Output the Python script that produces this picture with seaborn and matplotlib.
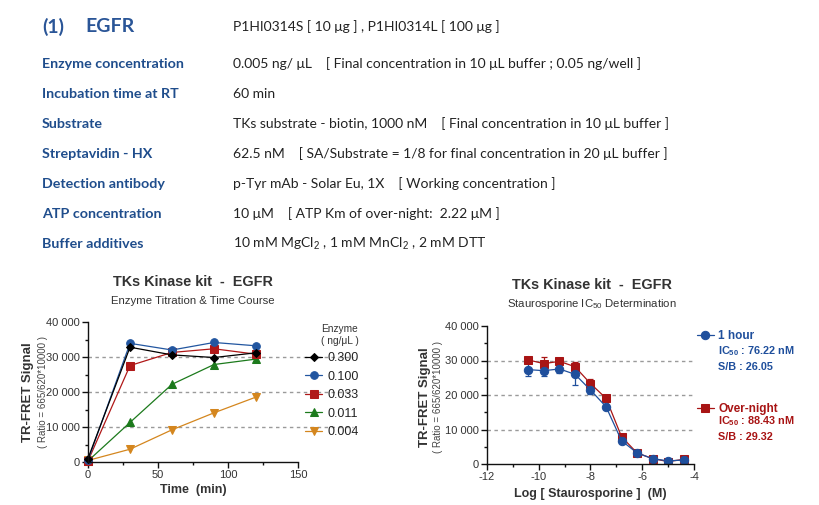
import numpy as np
import pandas as pd
import seaborn as sns
import matplotlib.pyplot as plt
from matplotlib.ticker import FuncFormatter, MultipleLocator, AutoMinorLocator

# --- dati: titolazione enzima / time course ---
tempi = [0, 30, 60, 90, 120]
enzima_labels = ['0.300', '0.100', '0.033', '0.011', '0.004']
segnale_0300 = [1000, 32800, 30600, 29850, 31200]
segnale_0100 = [500, 33900, 32000, 34150, 33200]
segnale_0033 = [300, 27550, 31300, 32350, 30800]
segnale_0011 = [300, 11300, 22200, 27850, 29400]
segnale_0004 = [450, 3650, 9200, 14050, 18550]

# --- dati: staurosporine IC50 ---
log_conc = [-10.4, -9.8, -9.2, -8.6, -8.0, -7.4, -6.8, -6.2, -5.6, -5.0, -4.4]
ora_1 = [27350, 27050, 27550, 26000, 21450, 16600, 6750, 3200, 1550, 900, 1150]
ora_1_sd = [1800, 1500, 1200, 3000, 1200, 800, 400, 400, 300, 200, 200]
notte = [30150, 29100, 29750, 28200, 23300, 19050, 7900, 3200, 1550, 700, 1350]
notte_sd = [600, 1800, 500, 1500, 1300, 500, 500, 300, 200, 200, 200]

# --- testo informativo in alto ---
etichette = ['Enzyme concentration', 'Incubation time at RT', 'Substrate',
             'Streptavidin - HX', 'Detection antibody', 'ATP concentration',
             'Buffer additives']
valori = ['0.005 ng/ μL    [ Final concentration in 10 μL buffer ; 0.05 ng/well ]',
          '60 min',
          'TKs substrate - biotin, 1000 nM    [ Final concentration in 10 μL buffer ]',
          '62.5 nM    [ SA/Substrate = 1/8 for final concentration in 20 μL buffer ]',
          'p-Tyr mAb - Solar Eu, 1X    [ Working concentration ]',
          '10 μM    [ ATP Km of over-night:  2.22 μM ]',
          r'10 mM MgCl$_\mathrm{2}$ , 1 mM MnCl$_\mathrm{2}$ , 2 mM DTT']

sns.set_style('ticks')
plt.rcParams['font.family'] = ['Liberation Sans', 'DejaVu Sans']
plt.rcParams['mathtext.fontset'] = 'custom'
plt.rcParams['mathtext.rm'] = 'Liberation Sans'
plt.rcParams['mathtext.bf'] = 'Liberation Sans:bold'
plt.rcParams['axes.unicode_minus'] = False

W, H = 820, 505
fig = plt.figure(figsize=(8.2, 5.05), dpi=100)

def fx(px):
    return px / W

def fy(py):
    return 1 - py / H

blu_testo = '#1f4d8c'
font_top = ['Lato', 'DejaVu Sans']

fig.text(fx(42), fy(27), '(1)', fontsize=14, fontweight='bold', color='#2a5597',
         family=font_top, va='center')
fig.text(fx(85), fy(27), 'EGFR', fontsize=14, fontweight='bold', color='#2a5597',
         family=font_top, va='center')
fig.text(fx(233), fy(27), 'P1HI0314S [ 10 μg ] , P1HI0314L [ 100 μg ]', fontsize=10,
         color='#222222', family=font_top, va='center')
for i, (et, val) in enumerate(zip(etichette, valori)):
    y = 64 + 30 * i
    fig.text(fx(42), fy(y), et, fontsize=10.3, fontweight='bold', color=blu_testo,
             family=font_top, va='center')
    fig.text(fx(233), fy(y), val, fontsize=10, color='#222222', family=font_top,
             va='center')

def formatta_asse_y(ax):
    ax.set_ylim(0, 40000)
    ax.yaxis.set_major_locator(MultipleLocator(10000))
    ax.yaxis.set_minor_locator(AutoMinorLocator(2))
    ax.yaxis.set_major_formatter(FuncFormatter(lambda v, p: f'{int(v):,}'.replace(',', ' ')))
    ax.tick_params(axis='both', which='major', length=4, width=1, labelsize=8,
                   labelcolor='#333333', color='#111111', pad=2)
    ax.tick_params(axis='both', which='minor', length=2.5, width=1, color='#111111')
    for s in ['left', 'bottom']:
        ax.spines[s].set_linewidth(1)
        ax.spines[s].set_color('#111111')
    sns.despine(ax=ax)

# --- grafico 1: titolazione ---
ax1 = fig.add_axes([fx(88), fy(462), fx(210), 140 / H])
serie = [segnale_0300, segnale_0100, segnale_0033, segnale_0011, segnale_0004]
colori1 = ['#000000', '#2256a0', '#b01818', '#1c7a1c', '#d4861e']
marker1 = ['D', 'o', 's', '^', 'v']
msize1 = [4.5, 5.5, 5.5, 5.5, 5.5]

for y in [10000, 20000, 30000]:
    ax1.axhline(y, xmin=0, xmax=1.26, color='#9a9a9a', lw=1, ls=(0, (2.5, 2.5)),
                clip_on=False, zorder=0)

for lab, vals, c, m, ms in reversed(list(zip(enzima_labels, serie, colori1, marker1, msize1))):
    df = pd.DataFrame({'Tempo': tempi, 'Segnale': vals})
    sns.lineplot(data=df, x='Tempo', y='Segnale', ax=ax1, color=c, marker=m,
                 markersize=ms, markeredgecolor=c, lw=0.9, label=lab, clip_on=False)

ax1.set_xlim(0, 150)
ax1.xaxis.set_major_locator(MultipleLocator(50))
ax1.xaxis.set_minor_locator(AutoMinorLocator(2))
formatta_asse_y(ax1)
ax1.set_xlabel('Time  (min)', fontsize=9, fontweight='bold', color='#333333', labelpad=3)
ax1.set_ylabel('')
ax1.text(-0.286, 0.5, 'TR-FRET Signal', transform=ax1.transAxes, rotation=90,
         fontsize=9.5, fontweight='bold', color='#333333', ha='center', va='center')
ax1.text(-0.215, 0.5, '( Ratio = 665/620*10000 )', transform=ax1.transAxes, rotation=90,
         fontsize=7, color='#444444', ha='center', va='center')

h, l = ax1.get_legend_handles_labels()
leg1 = ax1.legend(h[::-1], l[::-1], title='Enzyme\n( ng/μL )', loc='upper left',
                  bbox_to_anchor=((300 - 88) / 210, 1.02), frameon=False,
                  fontsize=9, title_fontsize=7.3, handlelength=1.4, handletextpad=0.4,
                  labelspacing=0.52, borderaxespad=0)
leg1._legend_box.align = 'right'
for t in leg1.get_texts():
    t.set_color('#222222')
leg1.get_title().set_color('#333333')

fig.text(fx(193), fy(282), 'TKs Kinase kit  -  EGFR', fontsize=10.4, fontweight='bold',
         color='#333333', ha='center', va='center')
fig.text(fx(193), fy(301), 'Enzyme Titration & Time Course', fontsize=8.2,
         color='#333333', ha='center', va='center')

# --- grafico 2: IC50 ---
ax2 = fig.add_axes([fx(487), fy(464), fx(207), 138 / H])
for y in [10000, 20000, 30000]:
    ax2.axhline(y, color='#9a9a9a', lw=1, ls=(0, (2.5, 2.5)), zorder=0)

blu2, rosso2 = '#1f4f9c', '#a81414'
df1 = pd.DataFrame({'logC': log_conc, 'Segnale': ora_1, 'sd': ora_1_sd})
df2 = pd.DataFrame({'logC': log_conc, 'Segnale': notte, 'sd': notte_sd})
ax2.errorbar(df1['logC'], df1['Segnale'], yerr=df1['sd'], fmt='none', ecolor=blu2,
             elinewidth=0.9, capsize=2, capthick=0.9)
ax2.errorbar(df2['logC'], df2['Segnale'], yerr=df2['sd'], fmt='none', ecolor=rosso2,
             elinewidth=0.9, capsize=2, capthick=0.9)
sns.lineplot(data=df2, x='logC', y='Segnale', ax=ax2, color=rosso2, marker='s',
             markersize=5.5, markeredgecolor=rosso2, lw=0.9, label='Over-night')
sns.lineplot(data=df1, x='logC', y='Segnale', ax=ax2, color=blu2, marker='o',
             markersize=6, markeredgecolor=blu2, lw=0.9, label='1 hour')

ax2.set_xlim(-12, -4)
ax2.xaxis.set_major_locator(MultipleLocator(2))
ax2.xaxis.set_minor_locator(AutoMinorLocator(2))
formatta_asse_y(ax2)
ax2.set_xlabel('Log [ Staurosporine ]  (M)', fontsize=9, fontweight='bold',
               color='#333333', labelpad=4)
ax2.set_ylabel('')
ax2.text(-0.30, 0.486, 'TR-FRET Signal', transform=ax2.transAxes, rotation=90,
         fontsize=9.5, fontweight='bold', color='#333333', ha='center', va='center')
ax2.text(-0.237, 0.486, '( Ratio = 665/620*10000 )', transform=ax2.transAxes, rotation=90,
         fontsize=7, color='#444444', ha='center', va='center')

h2, l2 = ax2.get_legend_handles_labels()
leg2 = ax2.legend(h2[::-1], l2[::-1], loc='upper left', frameon=False,
                  bbox_to_anchor=((697 - 487) / 207, (464 - 330) / 138), fontsize=8.5,
                  handlelength=1.4, handletextpad=0.4, labelspacing=5.2, borderaxespad=0,
                  borderpad=0)
for t, c in zip(leg2.get_texts(), [blu2, rosso2]):
    t.set_color(c)
    t.set_fontweight('bold')

fig.text(fx(718), fy(351), r'IC$_{\mathbf{50}}$ : 76.22 nM', fontsize=7.8,
         fontweight='bold', color=blu2, va='center')
fig.text(fx(718), fy(367), 'S/B : 26.05', fontsize=7.8, fontweight='bold',
         color=blu2, va='center')
fig.text(fx(718), fy(421), r'IC$_{\mathbf{50}}$ : 88.43 nM', fontsize=7.8,
         fontweight='bold', color=rosso2, va='center')
fig.text(fx(718), fy(437), 'S/B : 29.32', fontsize=7.8, fontweight='bold',
         color=rosso2, va='center')

fig.text(fx(592), fy(285), 'TKs Kinase kit  -  EGFR', fontsize=10.4, fontweight='bold',
         color='#333333', ha='center', va='center')
fig.text(fx(592), fy(304), r'Staurosporine IC$_{50}$ Determination', fontsize=8.2,
         color='#333333', ha='center', va='center')

plt.savefig('out.png', dpi=100)
